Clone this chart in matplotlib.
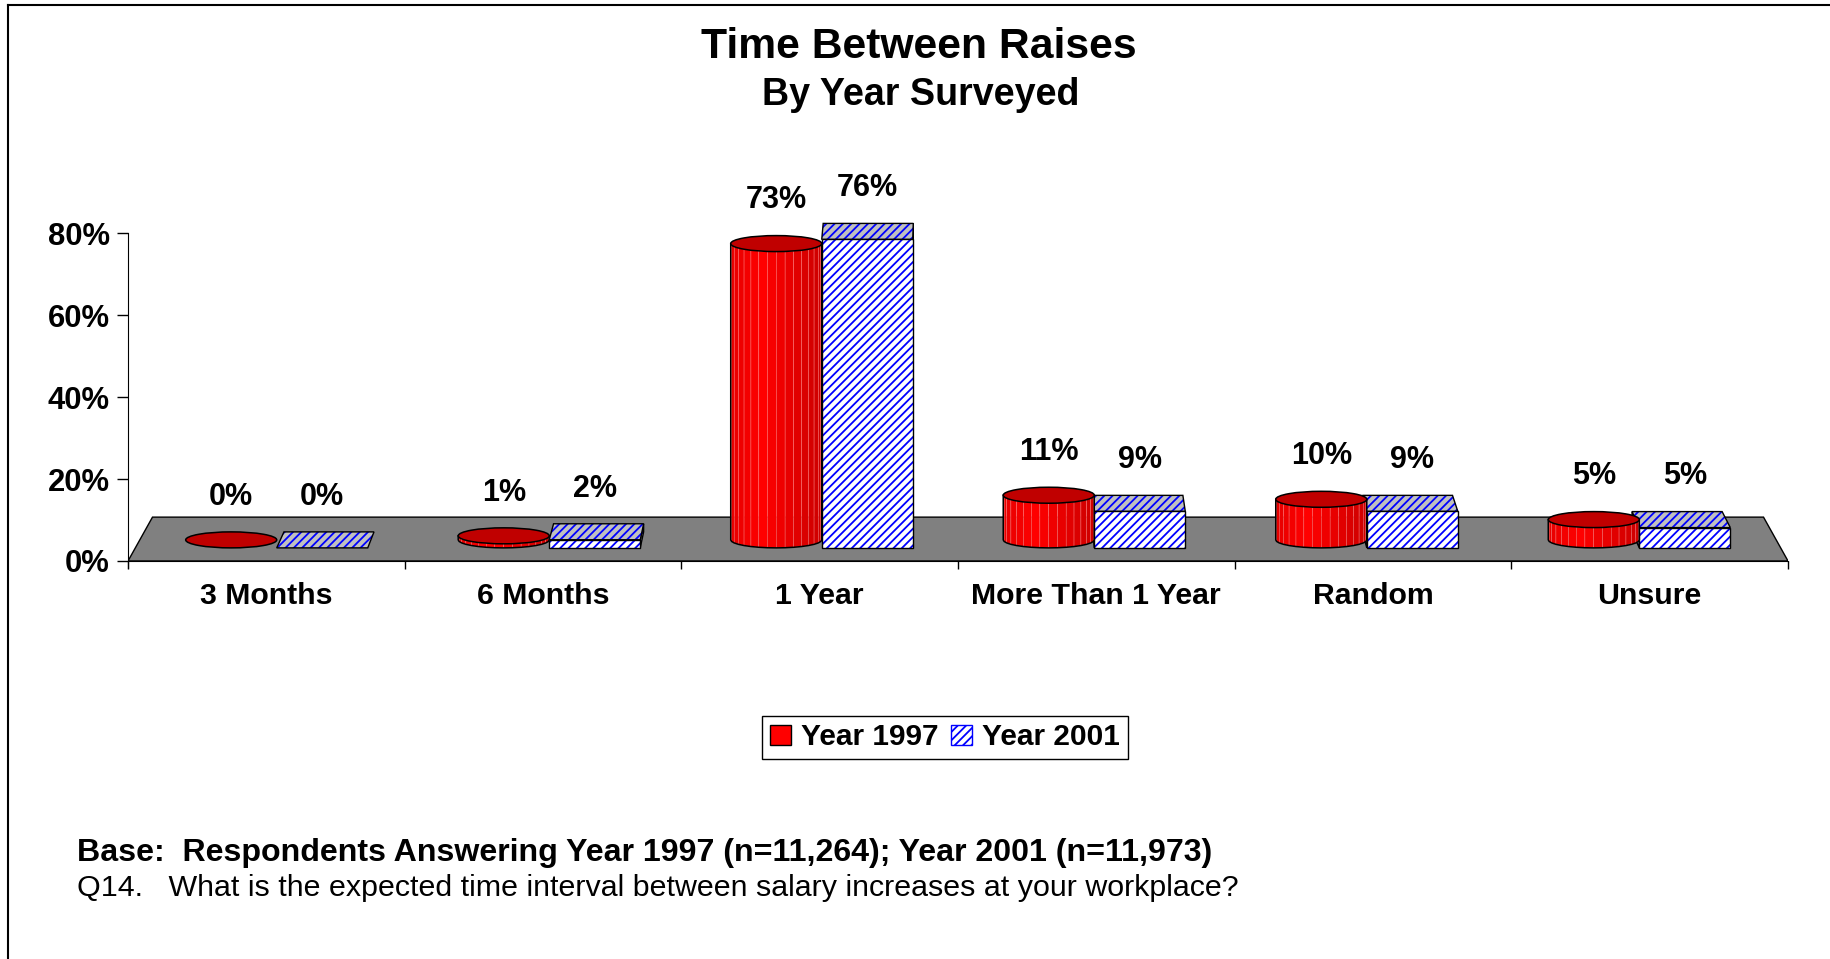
import numpy as np
import matplotlib
matplotlib.use("Agg")
import matplotlib.pyplot as plt
from matplotlib.patches import Polygon, Ellipse, Patch
from matplotlib.lines import Line2D

# data
categories = ["3 Months", "6 Months", "1 Year", "More Than 1 Year", "Random", "Unsure"]
year_1997 = [0, 1, 73, 11, 10, 5]
year_2001 = [0, 2, 76, 9, 9, 5]
series_names = ["Year 1997", "Year 2001"]
y_ticks = [0, 20, 40, 60, 80]

title = "Time Between Raises"
subtitle = "By Year Surveyed"
base_note = "Base:  Respondents Answering Year 1997 (n=11,264); Year 2001 (n=11,973)"
question = "Q14.   What is the expected time interval between salary increases at your workplace?"

plt.rcParams['font.family'] = ['Liberation Sans', 'DejaVu Sans']
plt.rcParams['font.weight'] = 'bold'
plt.rcParams['hatch.linewidth'] = 1.3

# fake 3d geometry (data units)
FLOOR_FRONT, FLOOR_BACK = 0.0, 10.7
XC = 2.5            # vanishing centre
BAR_W = 0.329
BAR_BASE = 3.2
DEPTH = 3.9         # vertical offset of bar back edge
HSCALE = 0.99
LABEL_OFF = 12.5


def persp(x, k):
    return XC + (x - XC) * k


def draw_cylinder(ax, cx, rx, y0, h, ry):
    yc0 = y0 + ry
    yt = yc0 + h
    th = np.linspace(np.pi, 2 * np.pi, 17)
    if h > 0:
        for a, b in zip(th[:-1], th[1:]):
            xs = cx + rx * np.cos([a, b, b, a])
            ys = [yc0 + ry * np.sin(a), yc0 + ry * np.sin(b),
                  yt + ry * np.sin(b), yt + ry * np.sin(a)]
            t = (np.cos((a + b) / 2) + 1) / 2
            if t < 0.35:
                r = 1.0 - 0.10 * (0.35 - t) / 0.35
            else:
                r = 1.0 - 0.20 * (t - 0.35) / 0.65
            ax.add_patch(Polygon(np.column_stack([xs, ys]), closed=True,
                                 fc=(r, 0, 0), ec=(1, 0.5, 0.5), lw=0.3, zorder=3))
        xs = np.concatenate([[cx - rx], cx + rx * np.cos(th), [cx + rx]])
        ys = np.concatenate([[yt], yc0 + ry * np.sin(th), [yt]])
        ax.add_line(Line2D(xs, ys, color='black', lw=1.1, zorder=3))
    ax.add_patch(Ellipse((cx, yt), 2 * rx, 2 * ry, fc='#C00000', ec='black', lw=1.1, zorder=3))


def draw_box(ax, x0, x1, y0, h, dy):
    yt = y0 + h
    k = 1 - 0.0106
    bx0, bx1 = persp(x0, k), persp(x1, k)
    faces = []
    if h > 0:
        if (x0 + x1) / 2 < XC:
            faces.append(([(x1, y0), (bx1, y0 + dy), (bx1, yt + dy), (x1, yt)], '#A0A0A0'))
        else:
            faces.append(([(x0, y0), (bx0, y0 + dy), (bx0, yt + dy), (x0, yt)], '#A0A0A0'))
    faces.append(([(x0, yt), (x1, yt), (bx1, yt + dy), (bx0, yt + dy)], '#C0C0C0'))
    if h > 0:
        faces.append(([(x0, y0), (x1, y0), (x1, yt), (x0, yt)], 'white'))
    for poly, fc in faces:
        ax.add_patch(Polygon(poly, closed=True, fc=fc, ec='#0000FF', lw=0, hatch='////', zorder=3))
        ax.add_patch(Polygon(poly, closed=True, fill=False, ec='black', lw=1.0, zorder=3))


fig = plt.figure(figsize=(18.3, 9.59), dpi=100)
ax = fig.add_axes([0.06995, 0.40219, 0.90710, 0.44035])
ax.set_xlim(-0.5, 5.5)
ax.set_ylim(-3, 100)
ax.patch.set_visible(False)

# floor
floor = [(-0.5, FLOOR_FRONT), (5.5, FLOOR_FRONT),
         (persp(5.5, 0.9705), FLOOR_BACK), (persp(-0.5, 0.9705), FLOOR_BACK)]
ax.add_patch(Polygon(floor, closed=True, fc='#808080', ec='black', lw=1.0, zorder=1))

for i, (v1, v2) in enumerate(zip(year_1997, year_2001)):
    c = persp(i, 0.985)
    order = ['red', 'blue'] if i < XC else ['blue', 'red']
    for s in order:
        if s == 'red':
            draw_cylinder(ax, c - BAR_W / 2, BAR_W / 2, BAR_BASE, v1 * HSCALE, DEPTH / 2)
            ax.text(c - BAR_W / 2, BAR_BASE + v1 * HSCALE + LABEL_OFF, f"{v1}%",
                    ha='center', va='center', fontsize=22, zorder=5)
        else:
            draw_box(ax, c, c + BAR_W, BAR_BASE, v2 * HSCALE, DEPTH)
            ax.text(c + BAR_W / 2, BAR_BASE + v2 * HSCALE + LABEL_OFF, f"{v2}%",
                    ha='center', va='center', fontsize=22, zorder=5)

# axes
for sp in ['top', 'right']:
    ax.spines[sp].set_visible(False)
ax.spines['left'].set_bounds(-1.7, 80)
ax.spines['bottom'].set_position(('data', FLOOR_FRONT))
ax.spines['bottom'].set_bounds(-0.5, 5.5)
ax.set_yticks(y_ticks, [f"{t}%" for t in y_ticks])
ax.tick_params(axis='y', length=8, width=1, labelsize=22.3, pad=5)
ax.set_xticks(np.arange(-0.5, 6, 1), [''] * 7)
ax.set_xticks(range(len(categories)), categories, minor=True)
ax.tick_params(axis='x', which='major', length=6, width=1)
ax.tick_params(axis='x', which='minor', length=0, labelsize=21.8, pad=15)

# titles and notes
fig.text(0.502, 0.9515, title, ha='center', va='center', fontsize=30.7)
fig.text(0.503, 0.9013, subtitle, ha='center', va='center', fontsize=27.1)
fig.text(0.0421, 0.1101, base_note, ha='left', va='center', fontsize=23.1)
fig.text(0.0421, 0.0744, question, ha='left', va='center', fontsize=21.9, fontweight='normal')

handles = [Patch(fc='#FF0000', ec='black', lw=1.0),
           Patch(fc='white', ec='#0000FF', hatch='////', lw=1.0)]
leg = fig.legend(handles, series_names, loc='center', bbox_to_anchor=(0.5164, 0.231),
                 ncol=2, fontsize=21.5, frameon=True, fancybox=False, framealpha=1,
                 edgecolor='black', handlelength=0.7, handleheight=0.7,
                 handletextpad=0.35, columnspacing=0.4, borderpad=0.25, borderaxespad=0)
leg.get_frame().set_linewidth(1.0)

# outer frame (top and left edge only)
fig.add_artist(Line2D([8 / 1830, 1], [1 - 5 / 959, 1 - 5 / 959], color='black', lw=1.5))
fig.add_artist(Line2D([8 / 1830, 8 / 1830], [0, 1 - 5 / 959], color='black', lw=1.5))

fig.savefig("out.png", dpi=100, facecolor='white')
